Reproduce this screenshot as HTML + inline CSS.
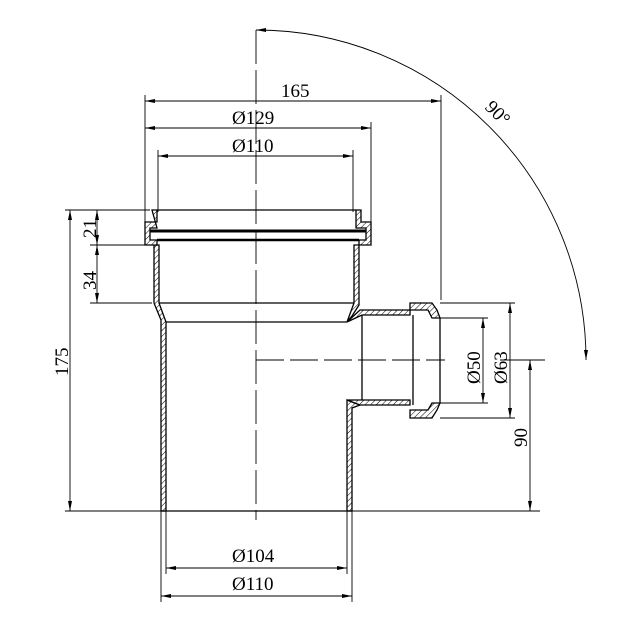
<!DOCTYPE html>
<html><head><meta charset="utf-8"><style>body{margin:0;background:#fff}svg{display:block}</style></head><body>
<svg width="630" height="630" viewBox="0 0 630 630" xmlns="http://www.w3.org/2000/svg">
<defs>
<pattern id="h" width="4" height="4" patternUnits="userSpaceOnUse" patternTransform="rotate(45)"><rect width="4" height="4" fill="#fff"/><line x1="0" y1="0" x2="0" y2="4" stroke="#000" stroke-width="1"/></pattern>
<marker id="a" viewBox="0 0 10 4" refX="10" refY="2" markerWidth="12" markerHeight="4" orient="auto-start-reverse" markerUnits="userSpaceOnUse"><path d="M0,0L10,2L0,4z" fill="#000"/></marker>
</defs>
<g stroke="#000" fill="none" stroke-width="0.9">
<line x1="256" y1="30" x2="256" y2="520" stroke-dasharray="34,6"/>
<line x1="256" y1="360" x2="445" y2="360" stroke-dasharray="28,6"/>
<line x1="500" y1="360" x2="545" y2="360"/>
<path d="M256,30 A330,330 0 0 1 586,360" marker-start="url(#a)" marker-end="url(#a)"/>
<line x1="145" y1="101" x2="441" y2="101" marker-start="url(#a)" marker-end="url(#a)"/>
<line x1="145" y1="128" x2="371" y2="128" marker-start="url(#a)" marker-end="url(#a)"/>
<line x1="158" y1="156" x2="353" y2="156" marker-start="url(#a)" marker-end="url(#a)"/>
<line x1="145" y1="95" x2="145" y2="228"/>
<line x1="158" y1="150" x2="158" y2="212"/>
<line x1="353" y1="150" x2="353" y2="212"/>
<line x1="371" y1="122" x2="371" y2="228"/>
<line x1="441" y1="95" x2="441" y2="300"/>
<line x1="65" y1="210" x2="150" y2="210"/>
<line x1="90" y1="245" x2="150" y2="245"/>
<line x1="90" y1="303" x2="152" y2="303"/>
<line x1="65" y1="511" x2="540" y2="511"/>
<line x1="70" y1="210" x2="70" y2="511" marker-start="url(#a)" marker-end="url(#a)"/>
<line x1="97" y1="210" x2="97" y2="245" marker-start="url(#a)" marker-end="url(#a)"/>
<line x1="97" y1="245" x2="97" y2="303" marker-start="url(#a)" marker-end="url(#a)"/>
<line x1="440" y1="303" x2="515" y2="303"/>
<line x1="440" y1="318" x2="488" y2="318"/>
<line x1="440" y1="403" x2="488" y2="403"/>
<line x1="440" y1="418" x2="515" y2="418"/>
<line x1="483" y1="318" x2="483" y2="403" marker-start="url(#a)" marker-end="url(#a)"/>
<line x1="510" y1="303" x2="510" y2="418" marker-start="url(#a)" marker-end="url(#a)"/>
<line x1="530" y1="360" x2="530" y2="511" marker-start="url(#a)" marker-end="url(#a)"/>
<line x1="161" y1="511" x2="161" y2="602"/>
<line x1="166" y1="511" x2="166" y2="574"/>
<line x1="347" y1="511" x2="347" y2="574"/>
<line x1="352" y1="511" x2="352" y2="602"/>
<line x1="166" y1="568" x2="347" y2="568" marker-start="url(#a)" marker-end="url(#a)"/>
<line x1="161" y1="596" x2="352" y2="596" marker-start="url(#a)" marker-end="url(#a)"/>
</g>
<g stroke="#000" stroke-width="1.3" fill="url(#h)">
<path d="M154,245 L154,303 L161,320 L161,511 L166,511 L166,322 L159,303 L159,245 Z"/>
<path d="M354,245 L354,303 L347,322 L352,316 L359,305 L359,245 Z"/>
<path d="M347,400 L347,511 L352,511 L352,408 L360,405 Z"/>
<path d="M152,210 L157,210 L157,222 L145,222 L145,245 L157,245 L157,240 L150,240 L150,228 L157,228 Z"/>
<path d="M356,210 L361,210 L361,222 L371,222 L371,245 L359,245 L359,240 L366,240 L366,228 L356,228 Z"/>
<path d="M347,322 L360,310 L410,310 L410,315 L362,315 Z"/>
<path d="M347,400 L360,405 L410,405 L410,400 L362,400 Z"/>
<path d="M410,303 L432,303 L437,310 L440,318 L432,318 L428,310 L410,310 Z"/>
<path d="M410,418 L432,418 L437,410 L440,403 L432,403 L428,410 L410,410 Z"/>
</g>
<g stroke="#000" stroke-width="1.3" fill="none">
<line x1="157" y1="210" x2="356" y2="210"/>
<line x1="150" y1="231" x2="366" y2="231" stroke-width="3"/>
<line x1="157" y1="240" x2="359" y2="240" stroke-width="2.5"/>
<line x1="159" y1="303" x2="354" y2="303"/>
<line x1="166" y1="322" x2="347" y2="322"/>
<line x1="362" y1="315" x2="362" y2="400"/>
<line x1="413" y1="315" x2="413" y2="405"/>
<line x1="440" y1="318" x2="440" y2="403"/>
<line x1="161" y1="511" x2="352" y2="511"/>
</g>
<g font-family="Liberation Serif, serif" font-size="19" fill="#000">
<text x="281" y="97">165</text>
<text x="232" y="124">Ø129</text>
<text x="232" y="152">Ø110</text>
<text x="232" y="562">Ø104</text>
<text x="232" y="590">Ø110</text>
<text transform="translate(96,238) rotate(-90)">21</text>
<text transform="translate(96,290) rotate(-90)">34</text>
<text transform="translate(68,376) rotate(-90)">175</text>
<text transform="translate(480,384) rotate(-90)">Ø50</text>
<text transform="translate(507,384) rotate(-90)">Ø63</text>
<text transform="translate(527,447) rotate(-90)">90</text>
<text transform="translate(484,108) rotate(45)">90°</text>
</g>
</svg>
</body></html>
